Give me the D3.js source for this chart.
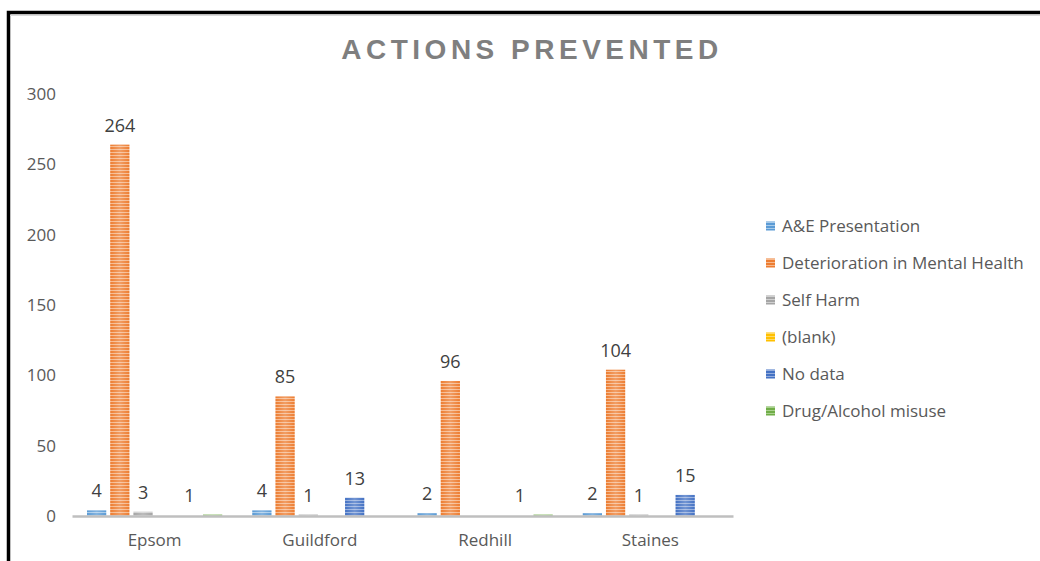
<!doctype html>
<html>
  <head>
    <meta charset="utf-8">
    <title>Actions Prevented</title>
    <script src="https://cdn.jsdelivr.net/npm/d3@7/dist/d3.min.js"></script>
    <style>
      body { margin: 0; background: #fff; }
      svg text { font-family: "Open Sans", "Liberation Sans", sans-serif; }
    </style>
  </head>
  <body>
    <div id="chart"></div>
  </body>
  <script>
    var categories = ["Epsom", "Guildford", "Redhill", "Staines"];
    var seriesNames = ["A&E Presentation", "Deterioration in Mental Health", "Self Harm", "(blank)", "No data", "Drug/Alcohol misuse"];
    var seriesColours = ["#5B9BD5", "#ED7D31", "#A5A5A5", "#FFC000", "#4472C4", "#70AD47"];
    var seriesLight = ["#A8CBEA", "#F6B98E", "#D0D0D0", "#FFD966", "#95AEDD", "#A9D18E"];

    // values per series, in category order
    var aeValues = [4, 4, 2, 2];
    var deteriorationValues = [264, 85, 96, 104];
    var selfHarmValues = [3, 1, 0, 1];
    var blankValues = [0, 0, 0, 0];
    var noDataValues = [0, 13, 0, 15];
    var drugValues = [1, 0, 1, 0];

    var yTicks = [0, 50, 100, 150, 200, 250, 300];

    var allValues = [aeValues, deteriorationValues, selfHarmValues, blankValues, noDataValues, drugValues];

    var width = 1040,
      height = 561;

    var svg = d3.select("#chart")
                .append("svg")
                .attr("width", width)
                .attr("height", height);

    // striped fills like the excel bars
    var defs = svg.append("defs");
    seriesColours.forEach(function(c, i) {
      var grad = defs.append("linearGradient")
        .attr("id", "glow" + i)
        .attr("x1", "0").attr("x2", "1").attr("y1", "0").attr("y2", "0");
      grad.append("stop").attr("offset", "0%").attr("stop-color", "#fff").attr("stop-opacity", 0);
      grad.append("stop").attr("offset", "50%").attr("stop-color", "#fff").attr("stop-opacity", 0.25);
      grad.append("stop").attr("offset", "100%").attr("stop-color", "#fff").attr("stop-opacity", 0);

      var pat = defs.append("pattern")
        .attr("id", "stripe" + i)
        .attr("patternUnits", "userSpaceOnUse")
        .attr("width", 4)
        .attr("height", 3);
      pat.append("rect").attr("width", 4).attr("height", 3).attr("fill", seriesLight[i]);
      pat.append("rect").attr("width", 4).attr("height", 2).attr("fill", c);
    });

    // frame
    svg.append("rect")
      .attr("x", 8.5).attr("y", 12.5)
      .attr("width", 1040).attr("height", 560)
      .attr("fill", "none")
      .attr("stroke", "#000")
      .attr("stroke-width", 3.5);
    svg.append("line")
      .attr("x1", 10).attr("x2", 1040)
      .attr("y1", 15.5).attr("y2", 15.5)
      .attr("stroke", "#d9d9d9");

    svg.append("text")
      .attr("x", 532)
      .attr("y", 59)
      .attr("text-anchor", "middle")
      .attr("fill", "#7f7f7f")
      .style("font-family", "'Liberation Sans', Arial, sans-serif")
      .style("font-weight", "bold")
      .style("font-size", "28px")
      .style("letter-spacing", "4.5px")
      .text("ACTIONS PREVENTED");

    var plotLeft = 72, plotRight = 733, plotTop = 94, plotBottom = 516;

    var x0 = d3.scaleBand()
      .domain(categories)
      .range([plotLeft, plotRight])
      .paddingInner(0)
      .paddingOuter(0);

    var x1 = d3.scaleBand()
      .domain(seriesNames)
      .range([15, x0.bandwidth() - 15])
      .paddingInner(0.17);

    var y = d3.scaleLinear()
      .domain([0, 300])
      .range([plotBottom, plotTop]);

    // y axis labels
    var yAxis = d3.axisLeft(y).tickValues(yTicks).tickSize(0).tickPadding(0);
    var yg = svg.append("g")
      .attr("transform", "translate(56,0)")
      .call(yAxis);
    yg.select(".domain").remove();
    yg.selectAll("text")
      .attr("fill", "#595959")
      .style("font-size", "17px")
      .style("font-family", "'Open Sans', sans-serif");

    var data = [];
    categories.forEach(function(cat, ci) {
      seriesNames.forEach(function(s, si) {
        data.push({ cat: cat, series: s, si: si, value: allValues[si][ci] });
      });
    });

    var bars = svg.append("g");
    bars.selectAll("rect.bar")
      .data(data.filter(function(d) { return d.value > 0; }))
      .enter()
      .append("rect")
      .attr("class", "bar")
      .attr("x", function(d) { return x0(d.cat) + x1(d.series); })
      .attr("y", function(d) { return y(d.value); })
      .attr("width", x1.bandwidth())
      .attr("height", function(d) { return plotBottom - y(d.value); })
      .attr("fill", function(d) { return "url(#stripe" + d.si + ")"; });
    bars.selectAll("rect.glow")
      .data(data.filter(function(d) { return d.value > 0; }))
      .enter()
      .append("rect")
      .attr("class", "glow")
      .attr("x", function(d) { return x0(d.cat) + x1(d.series); })
      .attr("y", function(d) { return y(d.value); })
      .attr("width", x1.bandwidth())
      .attr("height", function(d) { return plotBottom - y(d.value); })
      .attr("fill", function(d) { return "url(#glow" + d.si + ")"; });

    // x axis line
    var xAxis = d3.axisBottom(x0).tickSize(0).tickPadding(18);
    var xg = svg.append("g")
      .attr("transform", "translate(0," + plotBottom + ")")
      .call(xAxis);
    xg.select(".domain")
      .attr("stroke", "#bfbfbf")
      .attr("stroke-width", 2.5);
    xg.selectAll("text")
      .attr("fill", "#595959")
      .style("font-size", "17px")
      .style("font-family", "'Open Sans', sans-serif");

    // data labels (the drug/alcohol label sits one slot to the left, as in the original)
    svg.append("g").selectAll("text")
      .data(data.filter(function(d) { return d.value > 0; }))
      .enter()
      .append("text")
      .attr("x", function(d) {
        var s = d.si === 5 ? seriesNames[4] : d.series;
        return x0(d.cat) + x1(s) + x1.bandwidth() / 2;
      })
      .attr("y", function(d) { return y(d.value) - 13; })
      .attr("text-anchor", "middle")
      .attr("fill", "#404040")
      .style("font-size", "18px")
      .text(function(d) { return d.value; });

    // legend
    var legend = svg.append("g").attr("transform", "translate(766,226)");
    var items = legend.selectAll("g")
      .data(seriesNames)
      .enter()
      .append("g")
      .attr("transform", function(d, i) { return "translate(0," + (i * 37) + ")"; });
    items.append("rect")
      .attr("x", 0).attr("y", -4.5)
      .attr("width", 9).attr("height", 9)
      .attr("fill", function(d, i) { return "url(#stripe" + i + ")"; });
    items.append("text")
      .attr("x", 16)
      .attr("y", 0)
      .attr("dy", "0.35em")
      .attr("fill", "#595959")
      .style("font-size", "17px")
      .text(function(d) { return d; });
  </script>
</html>
